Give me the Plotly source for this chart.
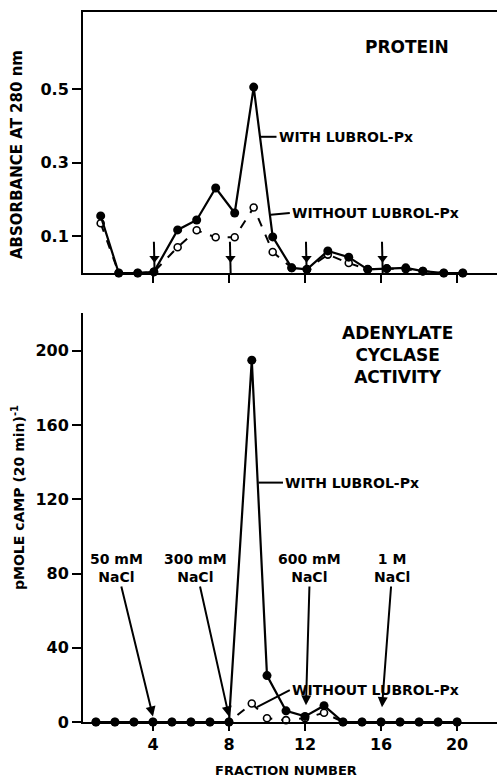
import plotly.graph_objects as go

# ---- data -------------------------------------------------------------
# Protein elution (absorbance at 280 nm)
protein_frac = [1.25, 2.2, 3.2, 4.05, 5.3, 6.3, 7.3, 8.3, 9.3, 10.3,
                11.3, 12.1, 13.2, 14.3, 15.3, 16.3, 17.3, 18.2, 19.3, 20.3]
protein_with = [0.155, 0.0, 0.0, 0.003, 0.117, 0.144, 0.231, 0.163, 0.505, 0.098,
                0.014, 0.01, 0.06, 0.043, 0.01, 0.012, 0.014, 0.005, 0.0, 0.0]
protein_without = [0.135, 0.0, 0.0, 0.003, 0.07, 0.116, 0.097, 0.097, 0.178, 0.057,
                   0.014, 0.01, 0.05, 0.027, 0.01, 0.012, 0.01, 0.005, 0.0, 0.0]

# Adenylate cyclase activity (pmol cAMP per 20 min)
activity_frac = [1, 2, 3, 4, 5, 6, 7, 8, 9.2, 10,
                 11, 12, 13, 14, 15, 16, 17, 18, 19, 20]
activity_with = [0, 0, 0, 0, 0, 0, 0, 0, 195, 25,
                 6, 3, 8.8, 0, 0, 0, 0, 0, 0, 0]
activity_without = [0, 0, 0, 0, 0, 0, 0, 0, 10, 2,
                    1, 2, 5, 0, 0, 0, 0, 0, 0, 0]

# Salt steps applied to the column
step_frac = [4, 8, 12, 16]
step_labels = ["50 mM<br>NaCl", "300 mM<br>NaCl", "600 mM<br>NaCl", "1 M<br>NaCl"]

x_ticks = [4, 8, 12, 16, 20]
protein_ticks = [0.1, 0.3, 0.5]
activity_ticks = [0, 40, 80, 120, 160, 200]

FONT = "DejaVu Sans"
INK = "black"

W, H = 497, 780
PH = 770  # vertical extent used to place panels in paper units


def px(x):
    return x / W


def py(y):
    return 1 - y / PH


fig = go.Figure()


def add_pair(xs, y_with, y_without, xa, ya):
    fig.add_trace(go.Scatter(
        x=xs, y=y_without, mode="lines+markers", xaxis=xa, yaxis=ya,
        line=dict(color=INK, width=2, dash="dash"),
        marker=dict(symbol="circle", size=7, color="white",
                    line=dict(color=INK, width=1.6)),
        cliponaxis=False, showlegend=False))
    fig.add_trace(go.Scatter(
        x=xs, y=y_with, mode="lines+markers", xaxis=xa, yaxis=ya,
        line=dict(color=INK, width=2.2),
        marker=dict(symbol="circle", size=9, color=INK),
        cliponaxis=False, showlegend=False))


add_pair(protein_frac, protein_with, protein_without, "x", "y")
add_pair(activity_frac, activity_with, activity_without, "x2", "y2")

# salt-step arrows in the protein profile: shaft + head
for f in step_frac:
    fig.add_shape(type="line", xref="x", yref="y",
                  x0=f + 0.05, y0=0.085, x1=f + 0.1, y1=-0.03,
                  line=dict(color=INK, width=2))
fig.add_trace(go.Scatter(
    x=[f + 0.08 for f in step_frac], y=[0.04] * len(step_frac),
    mode="markers", xaxis="x", yaxis="y",
    marker=dict(symbol="triangle-down", size=9, color=INK),
    cliponaxis=False, showlegend=False, hoverinfo="skip"))

left = px(83)
top_dom = [py(273), py(12)]
bot_dom = [py(722), py(313)]
xr = [0.32, 22.1]

tick_font = dict(family=FONT, size=16, color=INK, weight="bold")
axis_common = dict(showgrid=False, zeroline=False, showline=True,
                   linecolor=INK, linewidth=2, ticks="outside",
                   tickcolor=INK, tickwidth=2)

fig.update_layout(
    width=W, height=H,
    margin=dict(l=0, r=0, t=0, b=0),
    paper_bgcolor="white", plot_bgcolor="white",
    xaxis=dict(domain=[left, 1], range=xr, anchor="y", tickvals=x_ticks,
               showticklabels=False, ticklen=8, mirror=True, **axis_common),
    yaxis=dict(domain=top_dom, range=[0, 0.709], anchor="x",
               tickvals=protein_ticks,
               ticktext=[f"{v:.1f}" for v in protein_ticks],
               ticklen=9, tickfont=tick_font, **axis_common),
    xaxis2=dict(domain=[left, 1], range=xr, anchor="y2", tickvals=x_ticks,
                ticktext=[str(v) for v in x_ticks], ticklen=7,
                tickfont=tick_font, **axis_common),
    yaxis2=dict(domain=bot_dom, range=[0, 220.4], anchor="x2",
                tickvals=activity_ticks,
                ticktext=[str(v) for v in activity_ticks],
                ticklen=9, tickfont=tick_font, **axis_common),
)

ann = []
lbl_font = dict(family=FONT, size=14, color=INK, weight="bold")
step_font = dict(family=FONT, size=14, color=INK, weight="bold")
head_font = dict(family=FONT, size=17, color=INK, weight="bold")

# salt step labels with arrows in the activity profile
step_geo = [  # (label x, head x, head y)
    (2.1, 4.0, 3),
    (6.26, 8.0, 3),
    (12.26, 12.05, 9),
    (16.6, 16.05, 8),
]
for lab, (lx, hx, hy) in zip(step_labels, step_geo):
    ann.append(dict(x=hx, y=hy, xref="x2", yref="y2",
                    ax=lx, ay=83, axref="x2", ayref="y2",
                    text=lab, font=step_font, align="center",
                    showarrow=True, arrowhead=2, arrowsize=1,
                    arrowwidth=2, arrowcolor=INK, standoff=0))

# curve labels
ann += [
    dict(x=10.5, y=0.37, xref="x", yref="y", text="WITH LUBROL-Px",
         xanchor="left", showarrow=False, font=lbl_font),
    dict(x=11.2, y=0.163, xref="x", yref="y", text="WITHOUT LUBROL-Px",
         xanchor="left", showarrow=False, font=lbl_font),
    dict(x=10.84, y=129, xref="x2", yref="y2", text="WITH LUBROL-Px",
         xanchor="left", showarrow=False, font=lbl_font),
    dict(x=11.2, y=17.2, xref="x2", yref="y2", text="WITHOUT LUBROL-Px",
         xanchor="left", showarrow=False, font=lbl_font),
]

# panel headings and axis titles
ann += [
    dict(x=px(407), y=py(47), text="PROTEIN", font=head_font),
    dict(x=px(397), y=py(355), text="ADENYLATE<br>CYCLASE<br>ACTIVITY",
         font=head_font, align="center"),
    dict(x=px(17), y=py(155), text="ABSORBANCE AT 280 nm", textangle=-90,
         font=dict(family=FONT, size=15, color=INK, weight="bold")),
    dict(x=px(18), y=py(498), text="pMOLE cAMP (20 min)<sup>-1</sup>",
         textangle=-90,
         font=dict(family=FONT, size=14, color=INK, weight="bold")),
    dict(x=px(286), y=py(770), text="FRACTION NUMBER",
         font=dict(family=FONT, size=13, color=INK, weight="bold")),
]
for a in ann[-5:]:
    a.update(xref="paper", yref="paper", xanchor="center", yanchor="middle",
             showarrow=False)
fig.update_layout(annotations=ann)

# short leader lines from the curves to their labels
leaders = [
    ("x", "y", 9.6, 0.37, 10.5, 0.37),
    ("x", "y", 10.2, 0.158, 11.2, 0.163),
    ("x2", "y2", 9.55, 129, 10.84, 129),
    ("x2", "y2", 9.47, 8, 11.2, 17.2),
]
for xr_, yr_, x0, y0, x1, y1 in leaders:
    fig.add_shape(type="line", xref=xr_, yref=yr_, x0=x0, y0=y0, x1=x1, y1=y1,
                  line=dict(color=INK, width=2))

fig.write_html("out.html")
